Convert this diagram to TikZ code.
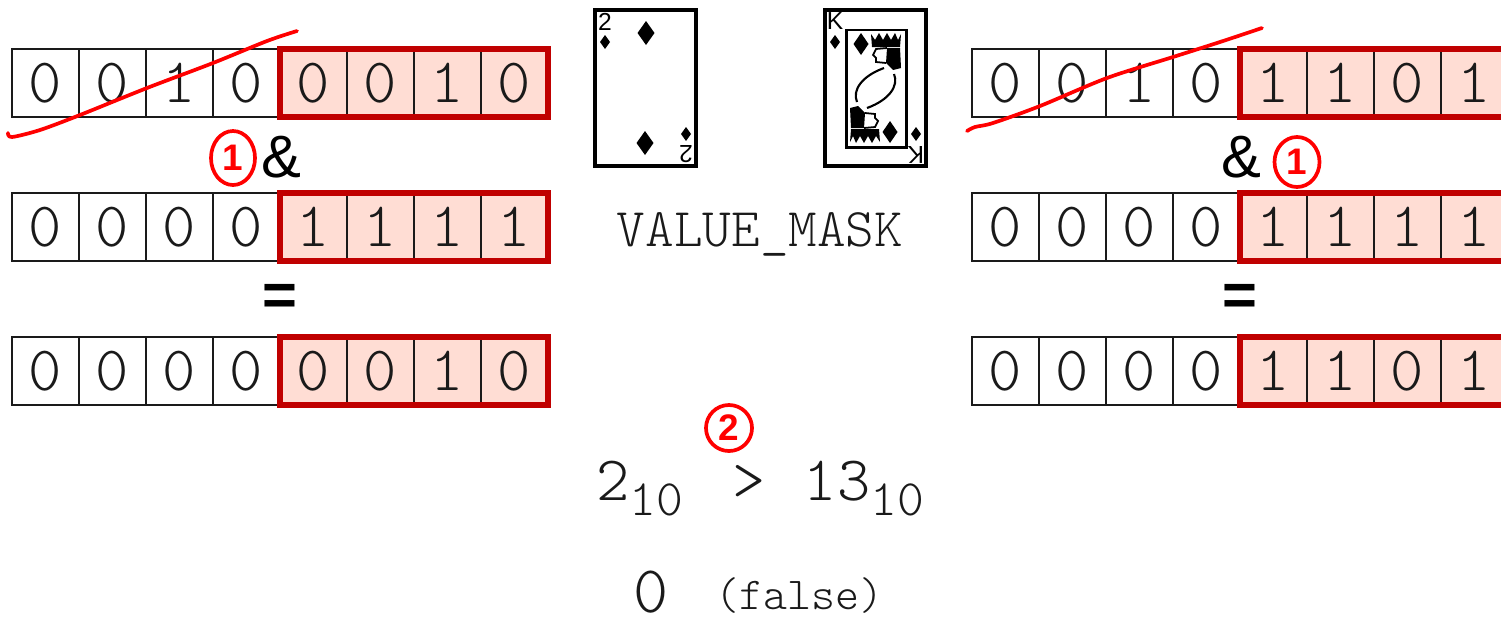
\documentclass[tikz,border=0pt]{standalone}
\usepackage{fontspec}
\setmainfont{Liberation Sans}
\setmonofont{lmmonolt10-regular}[Extension=.otf]
\usetikzlibrary{shapes.geometric}
\definecolor{ink}{HTML}{1A1A1A}
\definecolor{maskred}{HTML}{C00000}
\definecolor{maskfill}{HTML}{FFDDD4}
\definecolor{scribble}{HTML}{FF0000}
\newcommand\diamondpip[4]{\fill (#1,#2) +(0,-#4) -- +(#3,0) -- +(0,#4) -- +(-#3,0) -- cycle;}
\newcommand\lowten[1]{\raisebox{-4.3pt}{\fontsize{14.5}{16}\selectfont#1}}

\begin{document}
\begin{tikzpicture}[x=.01cm,y=-.01cm,every node/.style={text=ink},
  bit/.style={draw=ink,line width=.7pt,minimum width=.67cm,minimum height=.68cm,inner sep=0pt,outer sep=0pt,font=\ttfamily\fontsize{18}{20}\selectfont},
  lowbit/.style={bit,fill=maskfill},
  nibble/.style={draw=maskred,line width=1.45pt},
  op/.style={text=black,font=\fontsize{17}{20}\selectfont},
  card/.style={draw=black,line width=1.15pt},
  index/.style={font=\fontsize{7}{8}\selectfont,inner sep=0pt,text=black},
  redpen/.style={draw=scribble,line width=1.05pt,line cap=round,line join=round},
  ringmark/.style={redpen,ellipse,inner sep=0pt,text=scribble,font=\bfseries\fontsize{10.5}{12}\selectfont}]
\path[use as bounding box] (0,0) rectangle (1501,624);

% bit rows: card, mask, result
\foreach \name/\x/\y/\bits in {a1/45.5/83/{0,0,1,0,0,0,1,0},a2/45.5/227/{0,0,0,0,1,1,1,1},a3/45.5/371/{0,0,0,0,0,0,1,0},
  b1/1005.5/83/{0,0,1,0,1,1,0,1},b2/1005.5/227/{0,0,0,0,1,1,1,1},b3/1005.5/371/{0,0,0,0,1,1,0,1}}{
  \foreach \b [count=\i] in \bits {
    \ifnum\i>4 \def\sty{lowbit}\else\def\sty{bit}\fi
    \node[\sty] (\name-\i) at ({\x+67*(\i-1)},\y) {\b};
  }
  \draw[nibble] (\name-5.north west) rectangle (\name-8.south east);
}

\node[op] (and-a) at (281,157) {\&};
\node[op,font=\bfseries\fontsize{17}{20}\selectfont] (eq-a) at (280,300) {=};
\node[op] (and-b) at (1241,157) {\&};
\node[op,font=\bfseries\fontsize{17}{20}\selectfont] (eq-b) at (1240,300) {=};

% two of diamonds
\draw[card] (595,10) rectangle (696,166);
\foreach \ang in {0,180}{
  \begin{scope}[rotate around={\ang:(645.5,88)}]
    \node[index,rotate=\ang] (two-\ang) at (605,22) {2};
    \diamondpip{605}{42}{5}{7}
    \diamondpip{646}{33}{8.5}{12}
  \end{scope}}

% king of diamonds
\draw[card] (825,10) rectangle (926,166);
\draw[black,line width=.85pt] (846,30) rectangle (906,147);
\foreach \ang in {0,180}{
  \begin{scope}[rotate around={\ang:(875.5,88)}]
    \node[index,rotate=\ang] (king-\ang) at (835,21) {K};
    \diamondpip{835}{42}{5}{7}
    \diamondpip{861}{44}{7.5}{11}
    \fill (872,47) -- (871,34) -- (875,40) -- (879,33) -- (883,40) -- (887,33) -- (891,40) -- (895,33) -- (898,40) -- (901,34) -- (900,47) -- cycle;
    \fill (887,48) -- (900,48) -- (901,68) -- (893,70) -- (886,63) -- cycle;
    \draw[line width=.5pt] (887,48) -- (876,49) -- (873,55) -- (876,58) -- (876,62) -- (886,63);
    \draw[line width=.6pt] (884,68) .. controls (862,76) and (852,90) .. (857,102);
  \end{scope}}

\node[font=\ttfamily\fontsize{15.5}{18}\selectfont,anchor=base] (mask) at (760,246) {VALUE\_MASK};
\node[font=\ttfamily\fontsize{18}{20}\selectfont,anchor=base] (cmp) at (760,500)
  {2\lowten{10}\hspace{4.5pt} >\hspace{1.5pt} 13\lowten{10}};
\node[font=\ttfamily\fontsize{19}{22}\selectfont,anchor=base,inner sep=0pt] (zero) at (651,612) {0};
\node[font=\ttfamily\fontsize{13}{15}\selectfont,anchor=base,inner sep=0pt] (verdict) at (799,609) {(false)};

% hand-drawn notes
\draw[redpen] plot[smooth] coordinates {(8,133) (12,137) (40,130) (80,115) (147,88) (213,63) (267,41) (297,31)};
\draw[redpen] plot[smooth] coordinates {(967,131) (975,127) (993,123) (1040,106) (1107,78) (1173,57) (1220,42) (1262,28)};
\node[ringmark,minimum width=.44cm,minimum height=.54cm] (one-a) at (233,158) {1};
\node[ringmark,minimum width=.45cm,minimum height=.5cm] (one-b) at (1297,162) {1};
\node[ringmark,minimum width=.46cm,minimum height=.46cm] (two) at (729,428) {2};

\end{tikzpicture}
\end{document}
